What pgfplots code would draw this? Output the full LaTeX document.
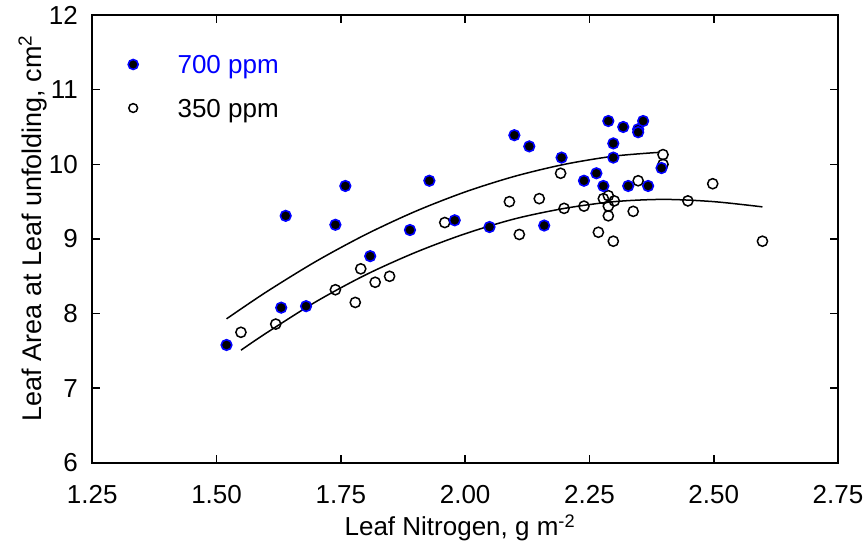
\documentclass[border=0pt]{standalone}
\usepackage{fontspec}
\setmainfont{Liberation Sans}
\usepackage{pgfplots}
\pgfplotsset{compat=1.18}

% 700 ppm (filled) and 350 ppm (open), leaf N vs leaf area
\pgfplotstableread{
x y
1.520 7.58
1.630 8.08
1.680 8.10
1.639 9.31
1.739 9.19
1.759 9.71
1.809 8.77
1.889 9.12
1.928 9.78
1.979 9.25
2.049 9.16
2.099 10.39
2.129 10.24
2.159 9.18
2.194 10.09
2.239 9.78
2.264 9.88
2.278 9.71
2.288 10.58
2.298 10.28
2.298 10.09
2.318 10.50
2.328 9.71
2.348 10.47
2.348 10.43
2.358 10.58
2.368 9.71
2.395 9.95
}\highco

\pgfplotstableread{
x y
1.549 7.75
1.619 7.86
1.739 8.32
1.779 8.15
1.790 8.60
1.819 8.42
1.848 8.50
1.959 9.22
2.089 9.50
2.109 9.06
2.149 9.54
2.192 9.88
2.199 9.41
2.239 9.44
2.268 9.09
2.278 9.54
2.288 9.58
2.300 9.51
2.288 9.44
2.288 9.31
2.298 8.97
2.338 9.37
2.348 9.78
2.398 10.13
2.398 10.00
2.448 9.51
2.498 9.74
2.598 8.97
}\lowco

\begin{document}
\fontsize{13}{15.6}\selectfont
\begin{tikzpicture}[font=\fontsize{13}{15.6}\selectfont]
\begin{axis}[
    scale only axis, width=372.9pt, height=224pt,
    xmin=1.25, xmax=2.75, ymin=6, ymax=12,
    xtick={1.25,1.50,...,2.75}, ytick={6,...,12},
    /pgf/number format/assume math mode=true,
    tick align=inside, tick pos=both,
    major tick length=4pt,
    every tick/.style={black, line width=0.8pt},
    axis line style={line width=0.8pt},
    xticklabel style={/pgf/number format/fixed, /pgf/number format/fixed zerofill,
        /pgf/number format/precision=2, inner sep=0pt, yshift=-11pt},
    yticklabel style={inner sep=0pt, xshift=-7pt},
    xlabel={Leaf Nitrogen, g m\textsuperscript{-2}},
    ylabel={Leaf Area at Leaf unfolding, cm\textsuperscript{2}},
    xlabel style={at={(axis description cs:0.5,0)}, anchor=base, inner sep=0pt, yshift=-36.5pt, xshift=-2.5pt},
    ylabel style={font=\fontsize{13.5}{16}\selectfont,
        at={(axis description cs:0,0.5246)}, anchor=base, inner sep=0pt, yshift=25.15pt},
    legend image code/.code={\draw[#1] plot coordinates {(0cm,0cm)};},
    legend style={draw=none, fill=none, inner sep=0pt,
        at={(0,1)}, anchor=north west, xshift=17.75pt, yshift=-20pt,
        nodes={inner sep=0pt, text depth=0pt},
        column sep=19.7pt, row sep=12.7pt},
    legend cell align=left,
]
\addlegendimage{mark=*, mark size=2.5pt, draw=blue, fill=black, line width=0.8pt}
\addlegendentry{\textcolor{blue}{700 ppm}}
\addlegendimage{mark=o, mark size=2.2pt, draw=black, line width=0.75pt}
\addlegendentry{350 ppm}

% fitted curves
\addplot[black, line width=0.75pt, smooth, forget plot] coordinates {
(1.52,7.93) (1.60,8.29) (1.70,8.70) (1.80,9.06) (1.90,9.37) (2.00,9.63)
(2.10,9.84) (2.20,10.00) (2.30,10.11) (2.39,10.16)};
\addplot[black, line width=0.75pt, smooth, forget plot] coordinates {
(1.549,7.51) (1.60,7.74) (1.70,8.16) (1.80,8.52) (1.90,8.82) (2.00,9.07)
(2.10,9.27) (2.20,9.41) (2.30,9.50) (2.40,9.53) (2.50,9.50) (2.598,9.43)};

\addplot[only marks, mark=o, mark size=2.55pt, black, line width=0.75pt, forget plot] table {\lowco};
\addplot[only marks, mark=*, mark size=2.65pt, draw=blue, fill=black, line width=0.8pt, forget plot] table {\highco};
\end{axis}
\pgfresetboundingbox
\path[use as bounding box] ([xshift=-46.15pt,yshift=-40.5pt]current axis.south west) rectangle ([xshift=13.5pt,yshift=7.5pt]current axis.north east);
\end{tikzpicture}
\end{document}
